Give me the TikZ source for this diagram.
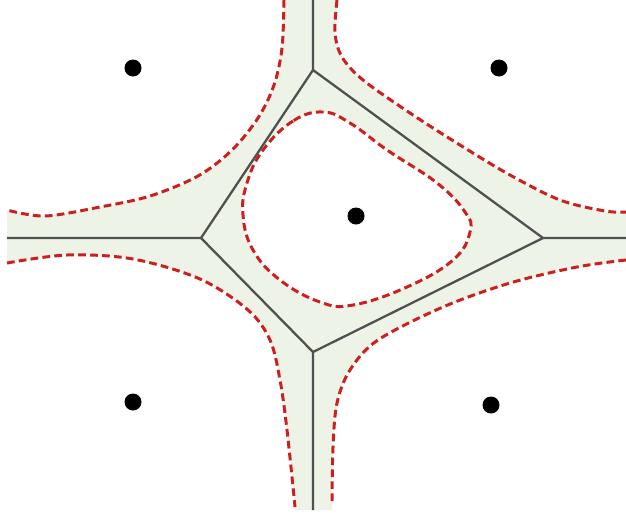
\documentclass[tikz,border=0pt]{standalone}
\begin{document}
\begin{tikzpicture}[x=0.1mm,y=-0.1mm,
  bound/.style={draw=boundred, line width=0.85pt, dash pattern=on 2.2pt off 1.2pt},
  vedge/.style={draw=edgegray, line width=0.65pt},
  site/.style={circle, fill=black, inner sep=0pt, minimum size=1.7mm}]
\definecolor{bandgreen}{RGB}{237,243,230}
\definecolor{boundred}{RGB}{204,32,32}
\definecolor{edgegray}{RGB}{80,80,80}
\useasboundingbox (0,0) rectangle (626,516);
\def\curveA{(284,0) (282,48) (274,85) (258,118) (232,150) (198,176) (150,196) (100,207) (45,216) (7,210)}
\def\curveB{(337,0) (335,33) (342,57) (363,80) (410,113) (460,145) (510,175) (560,200) (605,211) (626,212)}
\def\curveC{(323,112) (293,121) (263,150) (247,183) (243,215) (253,250) (280,280) (320,302) (353,305) (407,287) (453,260) (470,232) (465,212) (437,183) (387,150) (350,123)}
\def\curveD{(7,263) (67,255) (133,259) (200,279) (248,310) (270,340) (280,380) (287,430) (295,507)}
\def\curveE{(626,260) (577,267) (510,283) (443,307) (378,340) (350,370) (337,403) (333,447) (332,503)}
% green band
\fill[bandgreen] (7,0) rectangle (626,510);
% white cells
\fill[white] (0,0) -- plot[smooth, tension=0.55] coordinates {\curveA} -- (0,210) -- cycle;
\fill[white] (626,0) -- plot[smooth, tension=0.55] coordinates {\curveB} -- cycle;
\fill[white] plot[smooth cycle, tension=0.7] coordinates {\curveC};
\fill[white] (0,263) -- plot[smooth, tension=0.55] coordinates {\curveD} -- (295,516) -- (0,516) -- cycle;
\fill[white] (626,516) -- plot[smooth, tension=0.55] coordinates {\curveE} -- (332,516) -- cycle;
% dashed boundaries
\draw[bound] plot[smooth, tension=0.55] coordinates {\curveA};
\draw[bound] plot[smooth, tension=0.55] coordinates {\curveB};
\draw[bound] plot[smooth cycle, tension=0.7] coordinates {\curveC};
\draw[bound] plot[smooth, tension=0.55] coordinates {\curveD};
\draw[bound] plot[smooth, tension=0.55] coordinates {\curveE};
% Voronoi vertices and edges
\coordinate (vt) at (313,70);
\coordinate (vl) at (201,238);
\coordinate (vr) at (543,238);
\coordinate (vb) at (313,352);
\coordinate (et) at (313,0);
\coordinate (el) at (7,238);
\coordinate (er) at (626,238);
\coordinate (eb) at (313,510);
\draw[vedge] (et) -- (vt) -- (vl) -- (el);
\draw[vedge] (vt) -- (vr) -- (er);
\draw[vedge] (vl) -- (vb) -- (eb);
\draw[vedge] (vr) -- (vb);
% sites
\node[site] (s1) at (133,68) {};
\node[site] (s2) at (499,68) {};
\node[site] (s3) at (356,216) {};
\node[site] (s4) at (133,402) {};
\node[site] (s5) at (491,405) {};
\end{tikzpicture}
\end{document}
